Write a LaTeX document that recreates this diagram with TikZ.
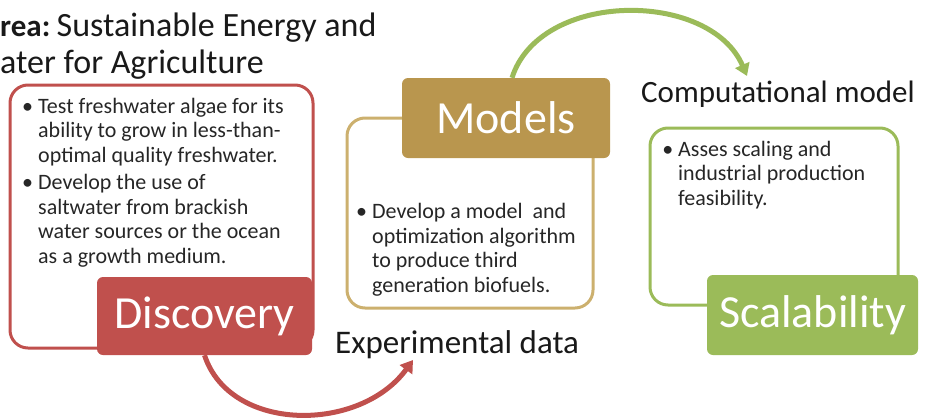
\documentclass[tikz,border=0pt]{standalone}
\usepackage{fontspec}
\setmainfont{Carlito}
\usetikzlibrary{arrows.meta}

\definecolor{discred}{RGB}{192,80,77}
\definecolor{modgold}{RGB}{185,150,78}
\definecolor{modframe}{RGB}{204,176,110}
\definecolor{scalgreen}{RGB}{155,187,89}

\tikzset{
  stageframe/.style={line width=3pt, rounded corners=18pt},
  stage/.style={rounded corners=6pt, text=white, inner sep=0pt,
    font=\fontsize{46}{50}\selectfont},
  bullets/.style={anchor=base west, align=left, inner sep=0pt,
    text=black!85, font=\fontsize{22}{24.5}\selectfont},
  caption/.style={anchor=base west, inner sep=0pt, text=black!90,
    font=\fontsize{33}{37}\selectfont},
  flow/.style={line width=5pt, -{Triangle[width=15pt,length=12pt]}},
}
\newcommand{\bul}{\llap{\textbullet\hspace{5pt}}}

\begin{document}
\begin{tikzpicture}[x=1pt,y=-1pt]
	\useasboundingbox (0,0) rectangle (925,418);

	\draw[stageframe, discred] (10,85) rectangle (313,348);
	\draw[stageframe, modframe] (347,118) rectangle (593,308);
	\draw[stageframe, scalgreen] (650,128) rectangle (898,305);

	\node[stage, fill=discred, minimum width=215pt, minimum height=78pt] (disc) at (204.5,316) {Discovery};
	\node[stage, fill=modgold, minimum width=208pt, minimum height=80pt] (models) at (506,118) {Models};
	\node[stage, fill=scalgreen, minimum width=211pt, minimum height=80pt] (scal) at (812.5,315) {Scalability};

	% title lines, cut at the left edge
	\node[caption, font=\fontsize{31}{37}\selectfont\bfseries] (area) at (0,36) {rea:};
	\node[caption, font=\fontsize{34}{39}\selectfont] (areatxt) at ([xshift=6pt]area.base east) {Sustainable Energy and};
	\node[caption, font=\fontsize{34}{39}\selectfont] (areab) at (0,73) {ater for Agriculture};

	% bullets: placed at the baseline of their last line
	\node[bullets] (disca) at (38,162) {\bul Test freshwater algae for its\\ability to grow in less-than-\\optimal quality freshwater.};
	\node[bullets] (discb) at (38,263) {\bul Develop the use of\\saltwater from brackish\\water sources or the ocean\\as a growth medium.};
	\node[bullets] (modelsa) at (372,292) {\bul Develop a model\ \ and\\optimization algorithm\\to produce third\\generation biofuels.};
	\node[bullets] (scala) at (678,205) {\bul Asses scaling and\\industrial production\\feasibility.};

	\node[caption] (exp) at (335,353) {Experimental data};
	\node[caption, font=\fontsize{31}{36}\selectfont] (comp) at (641,102) {Computational model};

	\coordinate (expin) at (413,360);
	\coordinate (compin) at (747,76);
	\draw[flow, discred] (disc.south) .. controls (230,433) and (360,433) .. (expin);
	\draw[flow, scalgreen] ([xshift=6pt]models.north) .. controls (540,-10) and (710,-10) .. (compin);
\end{tikzpicture}
\end{document}
